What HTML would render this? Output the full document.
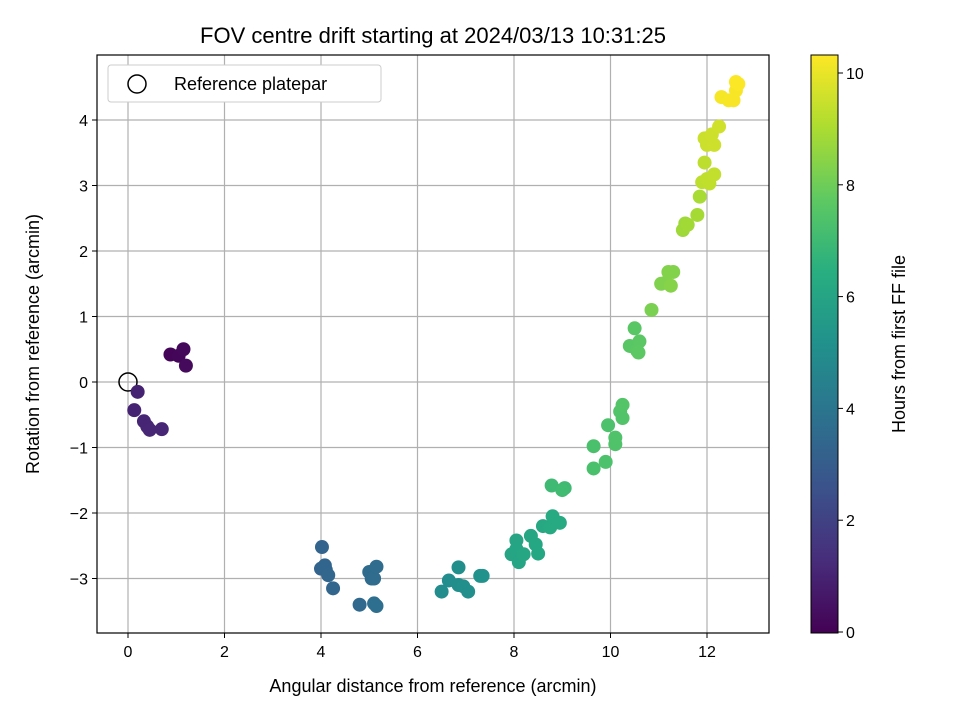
<!DOCTYPE html>
<html><head><meta charset="utf-8"><style>
body{margin:0;background:#fff}
svg{font-family:"Liberation Sans","DejaVu Sans",sans-serif}
</style></head><body>
<svg id="c" width="960" height="720">
<defs><linearGradient id="vir" x1="0" y1="1" x2="0" y2="0">
<stop offset="0" stop-color="#440154"/><stop offset="0.125" stop-color="#472d7b"/><stop offset="0.25" stop-color="#3b528b"/><stop offset="0.375" stop-color="#2c728e"/><stop offset="0.5" stop-color="#21918c"/><stop offset="0.625" stop-color="#28ae80"/><stop offset="0.75" stop-color="#5ec962"/><stop offset="0.875" stop-color="#addc30"/><stop offset="1" stop-color="#fde725"/></linearGradient></defs>
<text x="433" y="43" text-anchor="middle" font-size="22">FOV centre drift starting at 2024/03/13 10:31:25</text>
<g id="grid"></g><g id="pts"></g>
<rect x="97" y="55" width="672" height="578" fill="none" stroke="#000" stroke-width="1.2"/>
<g id="ax"></g>
<text x="433" y="692" text-anchor="middle" font-size="18">Angular distance from reference (arcmin)</text>
<text transform="translate(39,344) rotate(-90)" text-anchor="middle" font-size="18">Rotation from reference (arcmin)</text>
<g>
<rect x="108" y="65" width="273" height="37" rx="3" fill="#fff" stroke="#ccc"/>
<circle cx="137" cy="84" r="9" fill="none" stroke="#000" stroke-width="1.5"/>
<text x="174" y="90" font-size="18">Reference platepar</text></g>
<rect x="811" y="55" width="27" height="578" fill="url(#vir)" stroke="#000" stroke-width="1"/>
<g id="cb"></g>
<text transform="translate(905,344) rotate(-90)" text-anchor="middle" font-size="18">Hours from first FF file</text>
</svg>
<script>
const xs=[0.88,1.05,1.15,1.2,0.2,0.13,0.33,0.4,0.45,0.7,4.02,4.0,4.08,4.1,4.15,4.25,4.8,5.0,5.05,5.1,5.15,5.1,5.15,6.5,6.65,6.85,6.85,6.95,7.05,7.3,7.35,7.95,8.05,8.05,8.1,8.2,8.35,8.45,8.5,8.6,8.75,8.8,8.95,8.78,9.05,9.0,9.65,9.65,9.9,9.95,10.1,10.1,10.2,10.25,10.25,10.4,10.5,10.55,10.6,10.58,10.85,11.05,11.15,11.2,11.3,11.25,11.5,11.55,11.6,11.8,11.85,11.9,11.95,12.0,12.05,12.15,11.95,12.0,12.1,12.15,12.25,12.3,12.45,12.55,12.6,12.65,12.6];
const ys=[0.42,0.4,0.5,0.25,-0.15,-0.43,-0.6,-0.68,-0.73,-0.72,-2.52,-2.85,-2.8,-2.87,-2.95,-3.15,-3.4,-2.9,-3.0,-3.0,-2.82,-3.38,-3.42,-3.2,-3.03,-2.83,-3.1,-3.12,-3.2,-2.96,-2.96,-2.63,-2.42,-2.55,-2.75,-2.63,-2.35,-2.48,-2.62,-2.2,-2.22,-2.05,-2.15,-1.58,-1.62,-1.65,-0.98,-1.32,-1.22,-0.66,-0.85,-0.95,-0.45,-0.55,-0.35,0.55,0.82,0.48,0.62,0.45,1.1,1.5,1.52,1.68,1.68,1.47,2.32,2.42,2.4,2.55,2.83,3.05,3.35,3.1,3.03,3.17,3.72,3.62,3.78,3.62,3.9,4.35,4.3,4.3,4.45,4.55,4.58];
const hours=[0.1,0.15,0.2,0.25,1.0,1.0,1.05,1.05,1.1,1.1,3.3,3.3,3.35,3.35,3.4,3.4,3.5,3.6,3.6,3.65,3.65,3.7,3.7,5.0,5.0,5.05,5.05,5.1,5.1,5.2,5.2,6.0,6.0,6.05,6.05,6.1,6.1,6.15,6.15,6.2,6.25,6.3,6.3,7.0,7.0,7.05,7.3,7.3,7.35,7.35,7.4,7.4,7.45,7.45,7.5,7.6,7.6,7.65,7.65,7.7,8.2,8.3,8.3,8.35,8.35,8.4,8.8,8.8,8.85,8.9,8.95,9.3,9.3,9.35,9.35,9.4,9.5,9.5,9.55,9.55,9.6,10.2,10.2,10.25,10.25,10.3,10.3];
const xTicks=[0,2,4,6,8,10,12], yTicks=[-3,-2,-1,0,1,2,3,4], cTicks=[0,2,4,6,8,10];
const X=v=>128+v*48.25, Y=v=>382-v*65.5, C=v=>632-v*55.9;
const vir=["#440154","#472d7b","#3b528b","#2c728e","#21918c","#28ae80","#5ec962","#addc30","#fde725"];
function hex(h){return [1,3,5].map(i=>parseInt(h.substr(i,2),16));}
function col(h){let t=Math.max(0,Math.min(1,h/10.33))*8,i=Math.min(7,Math.floor(t)),f=t-i,a=hex(vir[i]),b=hex(vir[i+1]);return "rgb("+a.map((v,k)=>Math.round(v+(b[k]-v)*f)).join(",")+")";}
const NS="http://www.w3.org/2000/svg";
function mk(p,tag,at,txt){const e=document.createElementNS(NS,tag);for(const k in at)e.setAttribute(k,at[k]);if(txt!=null)e.textContent=txt;p.appendChild(e);return e;}
const g=document.getElementById('grid'),ax=document.getElementById('ax'),pts=document.getElementById('pts'),cb=document.getElementById('cb');
xTicks.forEach(t=>{const x=X(t);
const l=mk(g,'line',{x1:x,x2:x,y1:55,y2:633,stroke:'#b0b0b0','stroke-width':1.2});


mk(ax,'line',{x1:x,x2:x,y1:633,y2:638,stroke:'#000'});
const tx=mk(ax,'text',{x:x,y:657,'text-anchor':'middle','font-size':16},t);

});
yTicks.forEach(t=>{const y=Y(t);
const l=mk(g,'line',{x1:97,x2:769,y1:y,y2:y,stroke:'#b0b0b0','stroke-width':1.2});


mk(ax,'line',{x1:92,x2:97,y1:y,y2:y,stroke:'#000'});
const tx=mk(ax,'text',{x:88,y:y+6,'text-anchor':'end','font-size':16},t<0?'\u2212'+(-t):t);

});
const ref=mk(pts,'circle',{cx:X(0),cy:Y(0),r:9,fill:'none',stroke:'#000','stroke-width':1.5});


xs.forEach((v,i)=>{const c=mk(pts,'circle',{cx:X(v),cy:Y(ys[i]),r:7,fill:col(hours[i])});

});
cTicks.forEach(t=>{const y=C(t);
mk(cb,'line',{x1:838,x2:843,y1:y,y2:y,stroke:'#000'});
const tx=mk(cb,'text',{x:846,y:y+6,'font-size':16},t);

});
</script>
</body></html>
